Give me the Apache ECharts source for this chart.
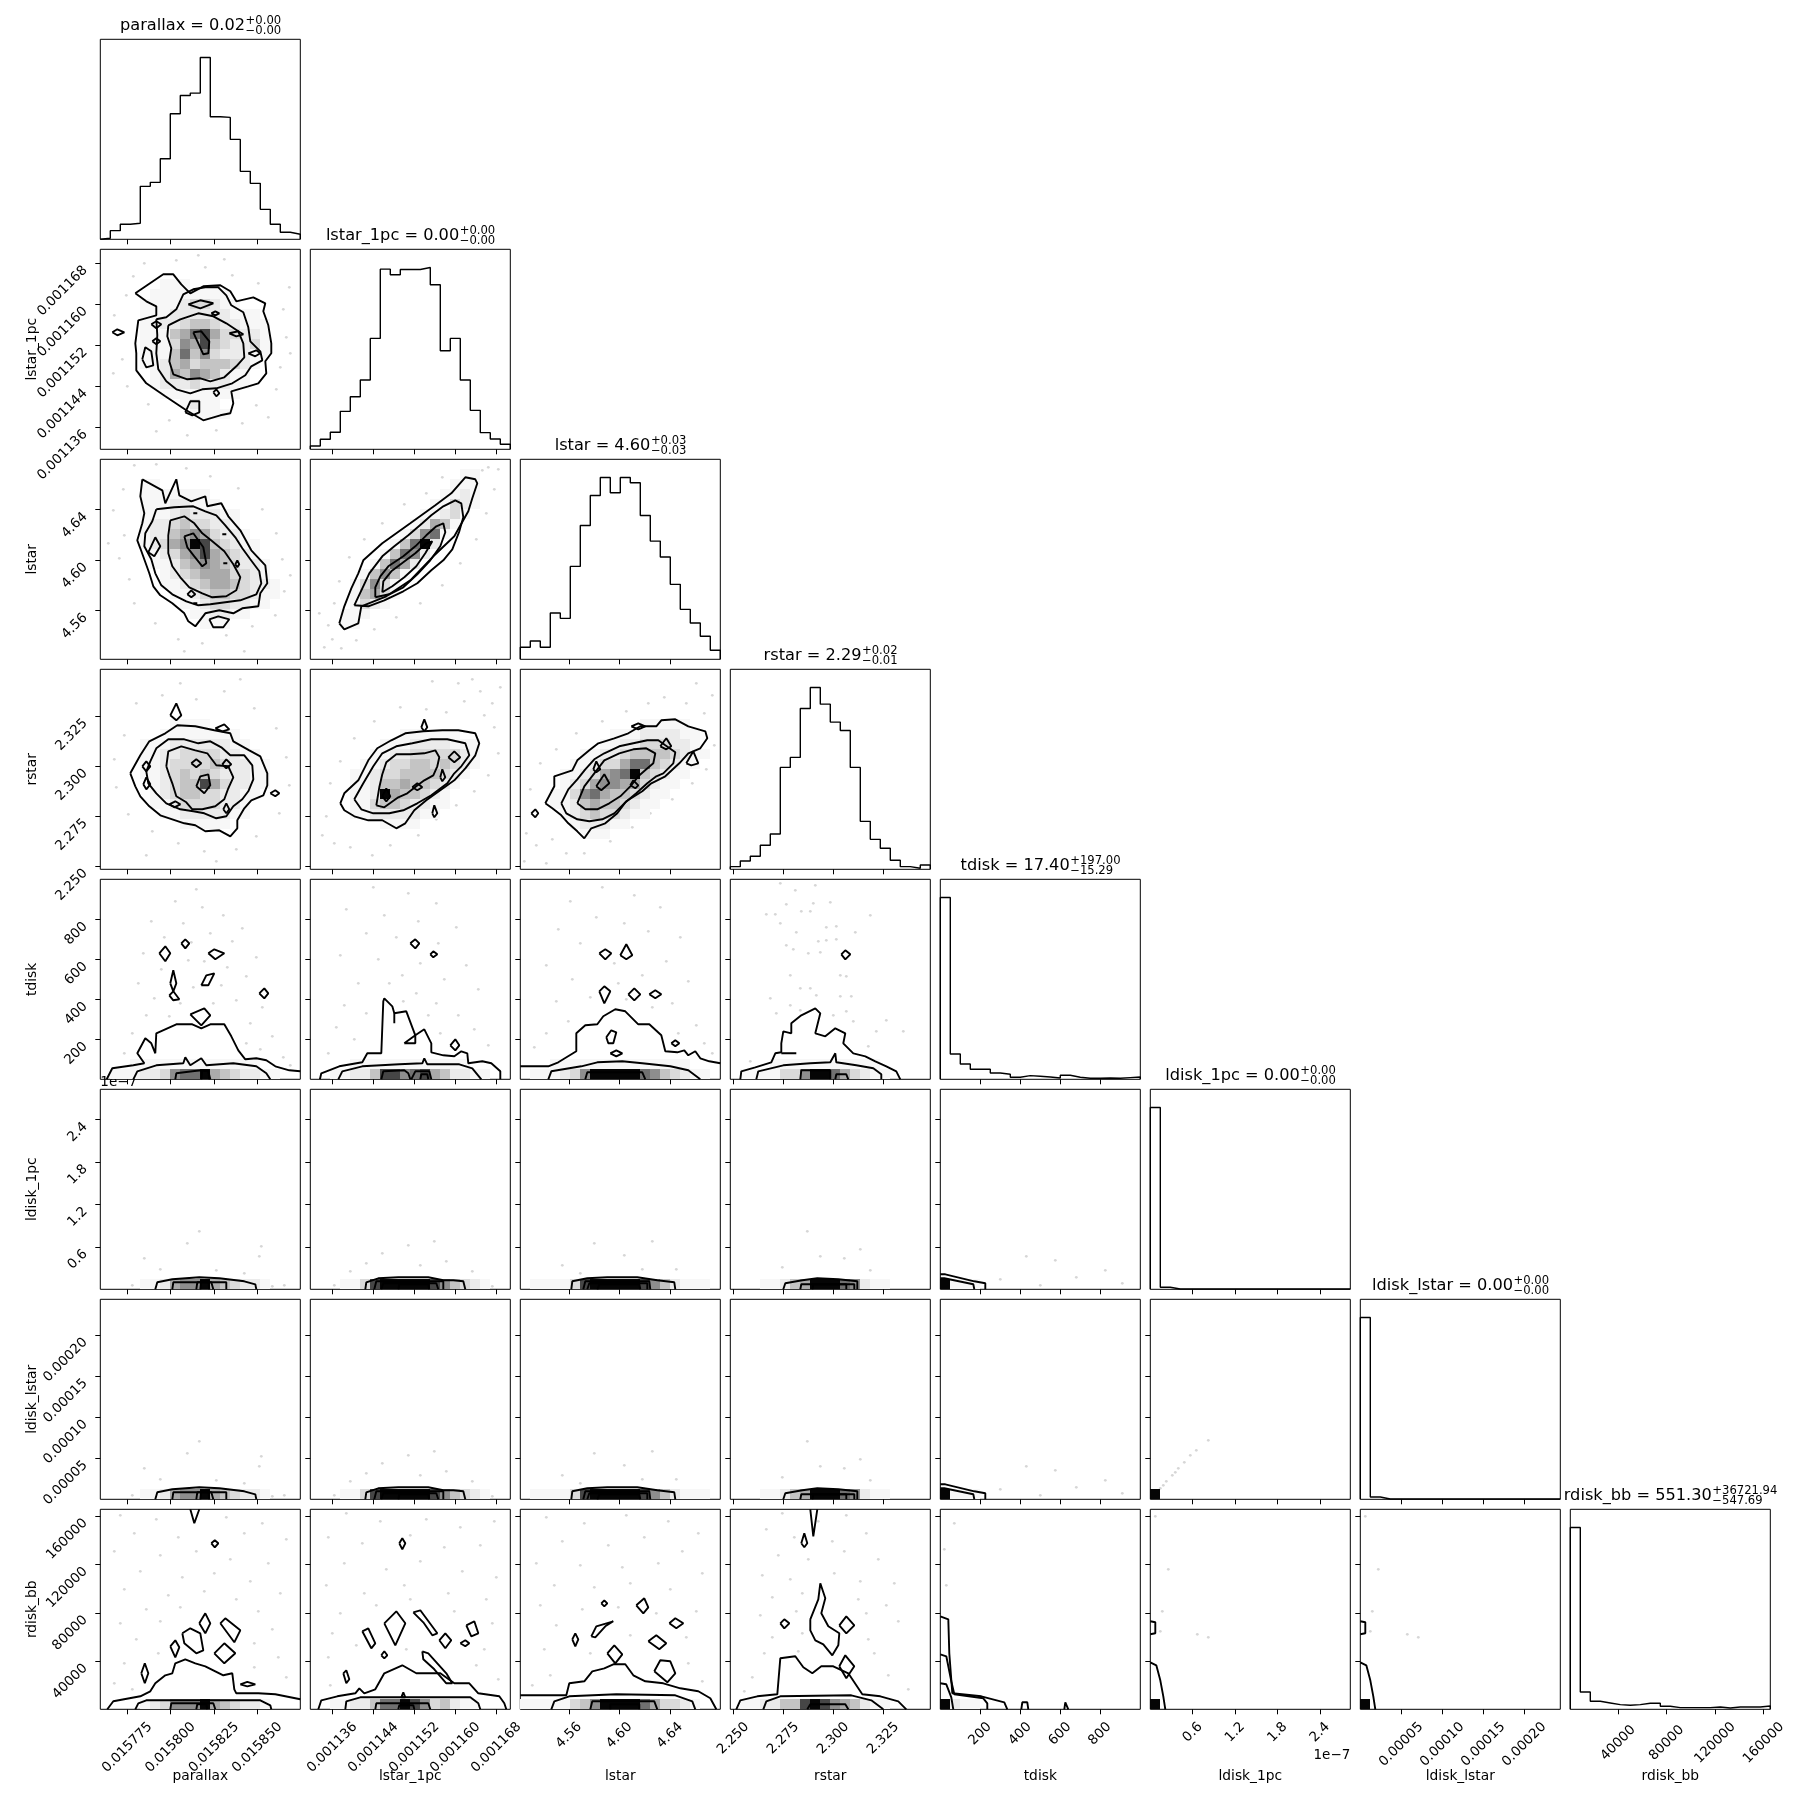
<!DOCTYPE html>
<html><head><meta charset="utf-8">
<script src="https://cdn.jsdelivr.net/npm/echarts@6/dist/echarts.min.js"></script>
<style>html,body{margin:0;padding:0;background:#fff}#c{width:1809px;height:1809px}</style>
</head><body><div id="c"></div>
<script>
// ---------------- data ----------------
const names = ['parallax','lstar_1pc','lstar','rstar','tdisk','ldisk_1pc','ldisk_lstar','rdisk_bb'];
const rangeMin = [0.0157594, 0.00113171, 4.5215, 2.2485, 0, 0, 0, 450];
const rangeMax = [0.0158748, 0.00117073, 4.6799, 2.3485, 1002, 2.83, 0.0002439, 165500];
const ticks = [
  [0.015775, 0.0158, 0.015825, 0.01585],
  [0.001136, 0.001144, 0.001152, 0.00116, 0.001168],
  [4.56, 4.60, 4.64],
  [2.25, 2.275, 2.3, 2.325],
  [200, 400, 600, 800],
  [0.6, 1.2, 1.8, 2.4],
  [0.00005, 0.0001, 0.00015, 0.0002],
  [40000, 80000, 120000, 160000]
];
const tickDecimals = [6, 6, 2, 3, 0, 1, 5, 0];
const titleMain = ['parallax = 0.02','lstar_1pc = 0.00','lstar = 4.60','rstar = 2.29','tdisk = 17.40','ldisk_1pc = 0.00','ldisk_lstar = 0.00','rdisk_bb = 551.30'];
const titleSup = ['+0.00','+0.00','+0.03','+0.02','+197.00','+0.00','+0.00','+36721.94'];
const titleSub = ['\u22120.00','\u22120.00','\u22120.03','\u22120.01','\u221215.29','\u22120.00','\u22120.00','\u2212547.69'];

// 1D histograms (20 bins each)
const hist_parallax   = [3,26,45,48,159,171,242,377,432,439,546,368,366,300,204,168,90,45,21,15];
const hist_lstar_1pc  = [10,30,51,114,158,208,333,541,524,540,540,546,494,296,333,208,117,50,31,15];
const hist_lstar      = [36,55,36,139,123,279,402,492,546,500,546,530,432,355,307,225,150,109,69,27];
const hist_rstar      = [8,25,39,72,106,306,336,483,546,496,442,417,306,144,90,63,27,8,3,13];
const hist_tdisk      = [546,76,46,30,30,19,15,6,11,9,7,4,12,6,3,3,4,3,5,7];
const hist_ldisk_1pc  = [546,6,1,1,1,1,1,1,1,1,1,1,1,1,1,1,1,1,1,1];
const hist_ldisk_lstar= [546,7,1,1,1,1,1,1,1,1,1,1,1,1,1,1,1,1,1,1];
const hist_rdisk_bb   = [546,52,24,19,14,12,14,18,18,9,5,5,5,5,7,4,7,7,7,10];
const hists = [hist_parallax,hist_lstar_1pc,hist_lstar,hist_rstar,hist_tdisk,hist_ldisk_1pc,hist_ldisk_lstar,hist_rdisk_bb];

// 2D histogram cells: rows of 20 bins (darkness 0-9), from row index "top" downward
const cells_1_0 = {top:16, rows:["00000011100000000000","00000111111110000000","00001111233211000000","00001112222221110000","00001122344322111000","00001114578533221000","00001113658432231000","00001114746322211000","00001124534443210000","00000125465421100000","00000122232221100000","00000011111111000000","00000000121100000000","00000000011110000000"]};
const cells_2_0 = {top:17, rows:["00001100000000000000","00001111111000000000","00001112211100000000","00001112322211000000","00001223433221000000","00001224565322100000","00001235698432110000","00000123568543210000","00000112456543221000","00000012345553321000","00000011234554322100","00000001123443321100","00000000112332211000","00000000011221100000","00000000001110000000"]};
const cells_2_1 = {top:18, rows:["00000000000000011000","00000000000000111000","00000000000001121000","00000000000011321000","00000000000112310000","00000000001254100000","00000000013671000000","00000000147920000000","00000001476200000000","00000014752000000000","00000146410000000000","00001363100000000000","00001453100000000000","00001321000000000000","00011100000000000000","00011000000000000000"]};
const cells_3_0 = {top:14, rows:["00000001111000000000","00000011111111000000","00001112222221100000","00001122333322110000","00001123333432211000","00001123434322211000","00000123448532211000","00000123443322110000","00000112333322100000","00000011222221100000","00000000111110000000"]};
const cells_3_1 = {top:13, rows:["00000000011111100000","00000001112222111000","00000011223333321000","00000112334434321000","00001123344443210000","00001124454432100000","00001129544321000000","00001134432211000000","00001122222110000000","00000001111000000000"]};
const cells_3_2 = {top:14, rows:["00000000000011111000","00000000011122221100","00000000112233322100","00000011223444432110","00000112335774321100","00001123567943211000","00001235665532110000","00011367544321100000","00011245443211000000","00001234332110000000","00000122211000000000","00000011100000000000"]};
const cells_4_0 = {top:1, rows:["00011111111111110000","01112236779543221100"]};
const cells_4_1 = {top:1, rows:["00001111111111110000","00112248867854221100"]};
const cells_4_2 = {top:1, rows:["00011111111111111000","01112369999976432110"]};
const cells_4_3 = {top:1, rows:["00001111111111100000","01111336997532110000"]};
const cells_5_0 = {top:0, rows:["00001125669543221000"]};
const cells_5_1 = {top:0, rows:["00011389999986432100"]};
const cells_5_2 = {top:0, rows:["01111389999986421110"]};
const cells_5_3 = {top:0, rows:["00011245999762110000"]};
const cells_5_4 = {top:0, rows:["91110000000000000000"]};
const cells_6_5 = {top:0, rows:["90000000000000000000"]};
const cells_7_0 = {top:0, rows:["00001236669543221000"]};
const cells_7_1 = {top:0, rows:["00112247798634211000"]};
const cells_7_2 = {top:0, rows:["11111346999975332100"]};
const cells_7_3 = {top:0, rows:["01122448986542110000"]};
const cells_7_4 = {top:0, rows:["92110000000000000000"]};
const cells_7_5 = {top:0, rows:["90000000000000000000"]};

// contour vertices in bin units (u along x, v along y, 0..20)
const contours_1_0 = [
 [3.5,15.6,6.3,17.5,7.3,17.5,8.1,16.5,9.0,15.6,10.3,16.3,12.0,16.4,13.0,15.8,13.6,14.8,15.3,15.2,16.5,14.6,16.3,13.8,16.8,12.4,17.1,10.6,17.1,9.6,16.5,8.8,16.6,7.6,15.8,6.6,14.8,6.3,13.1,5.8,13.3,4.6,13.0,3.6,12.0,3.4,10.3,2.9,8.6,3.9,6.5,5.3,4.6,6.6,3.6,7.9,3.6,9.6,3.5,10.6,3.8,12.9,5.6,13.4,5.6,14.3,4.6,14.8],
 [5.6,13.0,6.6,13.2,7.6,14.0,8.3,15.5,9.3,16.0,10.5,16.2,11.8,16.2,12.6,15.4,13.1,14.4,14.3,13.7,14.8,12.2,15.0,10.8,16.0,9.8,16.2,8.9,15.1,8.3,14.5,7.4,13.2,6.6,11.6,6.1,10.2,6.0,9.0,5.6,7.6,6.0,6.6,6.8,5.8,8.0,5.6,9.6,5.7,11.4],
 [6.8,12.4,8.0,13.0,9.8,13.6,11.3,13.3,12.6,12.6,13.8,11.8,14.3,10.6,14.4,9.2,13.6,8.3,12.4,7.2,11.0,6.8,10.0,7.1,8.7,7.0,7.3,7.5,6.9,8.8,7.1,10.1,6.7,11.3],
 [9.3,11.7,10.1,11.8,10.9,10.8,10.8,9.6,10.3,9.5,9.8,10.6],
 [8.8,14.5,10.0,14.9,11.3,14.6,10.0,14.1],
 [5.1,12.5,5.6,12.8,6.1,12.5,5.6,12.1],
 [5.2,10.8,5.6,11.1,6.0,10.8,5.6,10.5],
 [12.9,11.6,13.8,11.8,14.3,11.5,13.6,11.3],
 [14.8,9.6,15.6,9.9,16.0,9.6,15.5,9.3],
 [11.3,5.7,11.6,6.0,11.9,5.6,11.6,5.3],
 [8.5,3.7,9.0,4.8,9.9,4.8,9.9,3.7,9.2,3.4],
 [4.2,9.0,4.5,10.2,5.1,9.8,5.3,8.4,4.6,8.2],
 [1.2,11.7,1.7,12.0,2.4,11.7,1.7,11.4],
 [11.1,13.6,11.5,13.8,11.9,13.6,11.5,13.4]
];
const contours_2_0 = [
 [4.2,18.0,6.2,16.9,6.5,15.6,7.6,18.0,7.9,16.4,9.1,15.8,10.5,16.3,10.7,15.3,12.1,15.6,12.8,14.3,14.0,12.9,15.1,10.9,16.5,9.4,16.7,7.6,16.0,6.6,15.8,5.3,14.2,5.1,13.3,4.6,11.9,4.9,10.5,4.6,9.5,3.3,8.8,3.8,8.4,4.6,7.2,5.6,6.0,6.4,5.3,7.3,4.9,8.6,4.0,11.1,3.7,11.9,4.2,13.6,4.4,14.6,4.0,16.3],
 [5.6,15.0,7.4,15.2,9.3,15.3,10.5,14.8,11.6,14.4,12.5,13.4,13.5,12.2,14.2,11.1,15.0,10.0,15.9,8.8,16.1,7.6,15.6,6.5,14.0,5.9,12.5,5.7,11.0,5.5,9.8,5.4,8.6,5.8,7.2,6.5,6.1,7.4,5.5,8.6,5.1,10.0,4.4,11.3,4.5,12.6,5.2,13.8],
 [7.0,13.9,8.4,14.3,9.4,13.6,10.2,12.6,11.2,11.8,12.4,10.8,13.3,9.5,14.0,8.2,13.6,6.9,12.6,6.3,11.2,6.2,10.2,6.6,8.9,7.2,8.0,8.2,7.2,9.3,6.8,10.6,6.8,12.4],
 [8.4,12.3,9.3,12.6,10.3,11.2,10.6,9.6,10.2,9.3,9.4,10.3,8.7,11.2],
 [10.9,4.0,11.8,4.3,12.9,4.0,12.3,3.2,11.3,3.2],
 [9.3,14.6,9.5,14.8,9.7,14.6,9.5,14.4],
 [12.2,12.5,12.4,12.7,12.6,12.5,12.4,12.3],
 [12.3,9.6,12.5,9.8,12.7,9.6,12.5,9.4],
 [13.5,9.5,13.7,9.9,13.9,9.5,13.7,9.2],
 [9.3,5.6,9.5,5.8,9.7,5.6,9.5,5.4],
 [8.7,6.5,9.1,6.9,9.5,6.5,9.1,6.2],
 [4.8,10.7,5.5,12.2,6.0,11.3,5.4,10.3]
];
const contours_2_1 = [
 [2.9,3.6,3.4,3.0,4.8,3.6,5.1,5.3,7.6,6.3,10.0,7.9,12.3,10.3,14.4,12.3,15.8,14.8,16.2,16.1,16.7,17.6,16.5,18.0,15.5,18.2,14.1,16.6,12.5,15.4,10.0,13.6,7.2,11.6,5.3,9.9,4.8,8.6,4.1,7.1,3.4,5.3],
 [4.4,5.4,5.8,5.3,7.4,5.9,9.3,6.8,10.7,7.6,12.1,8.9,13.3,9.9,14.2,11.0,14.9,12.8,15.3,14.2,15.1,15.6,14.5,15.9,13.3,15.3,12.1,14.4,11.2,13.6,9.8,12.4,8.4,11.3,7.2,10.3,5.9,8.6,5.2,7.1],
 [6.5,6.2,7.9,6.5,9.3,7.2,10.7,8.5,12.0,9.9,13.0,11.3,13.5,12.7,13.3,13.6,12.6,13.3,11.6,12.4,10.5,11.3,9.3,10.3,7.8,9.3,7.0,8.3,6.5,7.2],
 [7.2,6.7,8.2,7.3,9.4,8.2,10.6,9.3,11.5,10.6,12.2,11.8,11.6,11.6,10.5,10.6,9.3,9.7,8.1,8.8,7.3,7.8]
];
const contours_3_0 = [
 [3.0,9.6,4.0,11.4,4.9,12.8,6.5,13.6,7.7,14.4,9.5,14.3,11.4,13.9,13.0,13.6,13.3,12.8,14.9,11.9,16.0,11.3,16.7,9.6,16.7,8.4,16.3,7.4,15.1,6.9,14.4,6.1,13.7,4.9,13.7,4.1,13.0,3.3,11.9,3.9,10.5,3.8,9.5,4.4,8.4,4.6,6.0,5.4,4.9,6.3,4.0,7.3,3.5,8.3],
 [5.0,10.8,5.6,12.1,6.8,13.0,8.4,13.0,9.8,12.6,11.0,12.8,12.1,12.2,13.0,11.4,14.4,11.4,15.2,10.4,15.3,9.0,14.8,7.8,14.2,7.0,13.3,6.3,12.6,5.3,11.6,5.1,10.4,5.6,9.3,5.8,8.0,6.0,6.6,6.6,5.6,7.6,4.8,8.6,4.6,9.8],
 [6.6,10.3,6.8,11.8,8.1,12.3,9.5,11.9,10.7,11.6,11.6,10.4,12.8,10.3,13.3,9.2,12.8,8.1,12.4,7.0,11.5,6.3,10.2,6.0,9.2,6.0,8.6,6.7,7.6,7.3,7.2,8.6,6.9,9.4],
 [9.6,8.3,10.0,9.3,10.8,9.5,11.0,8.4,10.4,7.6],
 [7.0,15.4,7.6,16.6,8.1,15.4,7.6,14.9],
 [11.5,14.1,12.4,14.5,12.9,14.0,12.2,13.8],
 [9.1,10.6,9.6,11.0,10.1,10.6,9.6,10.2],
 [12.2,10.5,12.6,11.0,13.1,10.5,12.6,10.1],
 [17.0,7.6,17.5,7.9,17.9,7.6,17.5,7.3],
 [4.2,10.3,4.6,10.8,5.0,10.3,4.6,9.8],
 [4.3,8.5,4.6,9.2,5.0,8.5,4.6,8.0],
 [6.9,6.5,7.5,6.8,8.0,6.5,7.4,6.2],
 [12.3,6.0,12.6,6.6,12.9,6.0,12.6,5.6]
];
const contours_3_1 = [
 [3.0,6.6,3.4,7.6,4.8,8.9,5.8,10.9,6.7,12.1,8.1,12.9,9.5,13.6,11.3,13.8,13.2,13.9,14.8,13.9,16.5,13.6,16.9,12.6,16.5,11.4,15.5,10.1,14.4,8.9,13.0,7.9,11.6,6.9,10.4,5.9,9.5,4.6,8.6,4.1,7.2,4.9,5.8,4.9,4.4,5.3,3.4,5.9],
 [4.4,7.0,5.3,8.6,6.3,10.3,7.2,11.6,8.6,12.3,10.2,12.6,12.1,13.0,13.7,13.0,15.5,12.6,15.9,11.4,15.1,10.3,14.4,9.6,13.7,8.6,12.1,7.4,10.7,6.6,9.3,5.9,7.9,5.6,6.3,5.6,5.1,6.0],
 [6.6,6.4,6.9,8.2,7.2,9.5,7.6,10.7,8.6,11.5,10.0,11.5,11.4,11.6,12.5,11.9,12.9,11.2,12.7,10.3,12.3,9.4,11.4,8.9,10.6,8.3,9.7,7.6,8.8,7.2,8.1,6.7,7.4,6.2],
 [7.2,7.3,7.6,8.1,8.0,7.3,7.6,6.8],
 [10.2,8.2,10.7,8.6,11.2,8.2,10.7,7.9],
 [13.8,11.2,14.4,11.8,15.0,11.2,14.4,10.7],
 [11.1,14.2,11.4,15.0,11.7,14.2,11.4,13.8],
 [12.2,5.6,12.4,6.4,12.7,5.6,12.4,5.2],
 [13.0,9.2,13.2,10.0,13.5,9.2,13.2,8.8]
];
const contours_3_2 = [
 [2.5,6.6,3.4,8.3,3.4,9.3,5.2,9.9,5.7,10.9,6.9,11.9,7.8,12.6,9.4,13.1,10.8,13.6,12.0,14.3,13.6,14.3,14.1,14.9,15.5,15.0,16.8,14.3,18.5,13.8,18.7,13.1,18.0,12.1,16.8,11.6,15.9,10.6,14.5,9.3,13.1,8.6,12.2,7.8,10.6,6.8,9.7,5.6,8.5,4.6,7.1,4.1,6.4,3.1,5.7,3.8,4.8,4.6,4.1,5.4,3.2,6.1],
 [4.1,6.6,4.8,8.0,5.7,9.0,6.5,10.0,7.4,11.0,8.4,11.6,9.9,12.3,11.3,12.6,12.7,12.9,13.8,12.9,14.5,12.4,15.5,11.7,15.3,10.6,14.3,9.6,13.6,9.3,12.7,8.6,11.6,7.6,10.4,6.6,9.4,5.6,8.2,5.0,6.9,4.8,5.7,5.0,4.6,5.6],
 [5.7,6.6,6.4,8.3,7.4,9.6,8.4,10.9,9.9,11.6,11.3,12.0,12.6,12.1,13.5,11.6,13.3,10.6,12.6,10.0,11.8,9.3,11.0,8.3,10.0,7.3,8.9,6.6,7.7,6.0,6.5,6.0],
 [7.6,8.3,8.4,9.5,8.9,8.6,8.1,7.9],
 [11.0,8.4,11.3,8.9,11.8,8.4,11.5,8.1],
 [11.1,14.3,11.8,14.6,12.5,14.3,11.8,14.0],
 [16.6,10.6,17.3,11.8,17.8,10.6,17.1,10.4],
 [1.1,5.6,1.5,6.0,1.8,5.6,1.5,5.2],
 [7.3,10.0,7.6,10.8,8.0,10.0,7.6,9.7],
 [14.0,12.3,14.6,13.1,15.1,12.3,14.6,12.0]
];
const contours_4_0 = [
 [0.64,0,1.2,1.1,3.3,1.4,4.4,1.6,3.7,2.6,4.5,4.1,5.1,3.6,5.5,2.6,5.6,4.6,7.6,5.5,9.2,5.5,10.1,5.1,11.0,5.5,12.4,5.5,13.1,4.3,13.8,2.9,14.5,2.0,15.6,2.1,16.6,1.9,17.5,1.3,18.9,0.9,20,0.8],
 [3.3,0,3.7,0.8,5.6,1.4,8.3,1.6,8.5,2.2,9.0,1.4,10.1,2.1,10.6,1.4,13.3,1.6,15.6,1.3,16.6,0.6,17.0,0],
 [7.5,0,7.6,0.6,9.2,0.8,10.1,0.9,10.8,0.8,11.0,0],
 [10.1,0,10.2,0.9,10.8,0.9,10.9,0],
 [9.0,6.5,10.4,7.1,11.0,6.4,10.1,5.4],
 [5.9,12.6,6.5,13.3,7.0,12.6,6.5,11.8],
 [8.1,13.6,8.5,14.0,8.9,13.6,8.5,13.1],
 [10.8,12.6,11.4,13.0,12.4,12.6,11.5,12.0],
 [7.0,9.6,7.3,10.9,7.6,9.6,7.3,8.8],
 [6.9,8.4,7.3,8.8,7.9,8.0,7.3,7.9],
 [10.1,9.4,10.6,10.4,11.4,10.6,10.8,9.4],
 [15.9,8.6,16.4,9.1,16.8,8.6,16.4,8.1]
];
const contours_4_1 = [
 [0.96,0,1.1,0.6,2.9,1.3,5.2,1.7,5.7,2.6,7.1,2.6,7.3,7.8,7.4,8.1,8.2,7.3,8.4,6.6,9.6,6.8,10.5,4.4,11.4,5.0,12.1,3.6,12.1,2.7,13.3,2.4,14.4,2.3,15.1,2.8,15.7,2.6,15.8,1.6,17.2,1.8,18.1,1.6,19.0,0.8,19.0,0],
 [2.8,0,3.2,0.8,5.2,1.3,8.9,1.5,11.2,1.6,11.4,2.1,11.7,1.5,14.9,1.5,16.2,1.1,17.1,0],
 [7.1,0,7.3,0.8,9.4,0.9,9.8,0.6,10.0,0],
 [10.1,0,10.5,0.8,11.9,0.8,12.1,0],
 [11.0,0,11.1,0.5,11.7,0.5,11.8,0],
 [10.0,13.6,10.5,14.0,10.9,13.6,10.5,13.1],
 [12.0,12.5,12.3,12.8,12.7,12.5,12.3,12.2],
 [14.0,3.4,14.5,4.0,14.9,3.4,14.5,2.9],
 [9.4,3.6,10.5,3.6,10.5,4.4],
 [8.4,6.6,8.4,5.6]
];
const contours_4_2 = [
 [0,1.3,2.8,1.3,3.8,1.7,5.6,2.8,5.6,4.6,6.5,5.4,7.7,5.5,8.3,6.3,9.5,7.0,10.5,6.8,11.8,5.5,12.9,5.5,14.1,4.4,14.5,2.8,15.7,2.7,16.4,2.9,16.8,2.4,17.5,2.8,18.0,2.1,18.9,1.8,20,1.6],
 [2.8,0,3.1,0.8,6.1,1.3,7.7,1.7,10.2,1.8,12.2,1.6,15.0,1.3,16.8,0.9,18.0,0],
 [6.5,0,6.7,0.7,12.2,0.7,12.5,0],
 [7.9,12.6,8.5,13.0,9.1,12.6,8.5,12.0],
 [10.0,12.4,10.6,13.5,11.2,12.4,10.6,12.0],
 [7.9,8.8,8.4,9.3,9.0,8.8,8.4,7.6],
 [10.8,8.5,11.4,9.1,12.0,8.5,11.4,7.9],
 [12.9,8.5,13.5,8.9,14.1,8.5,13.5,8.1],
 [8.6,4.2,9.1,4.9,9.6,4.7,9.3,3.6,8.8,3.6],
 [9.0,2.6,9.6,2.9,10.2,2.6,9.6,2.3],
 [15.1,3.6,15.5,3.9,15.9,3.6,15.5,3.3]
];
const contours_4_3 = [
 [1.0,0,1.1,0.8,2.5,1.2,4.1,1.7,4.5,2.6,5.1,2.7,5.1,3.6,5.3,4.8,6.1,4.6,6.1,5.6,7.1,6.4,8.5,7.1,9.0,6.6,8.5,4.6,9.5,4.3,10.5,5.1,11.5,4.6,11.3,3.6,12.3,2.6,13.5,2.3,14.5,1.8,15.6,1.3,16.6,0.8,17.0,0],
 [2.6,0,2.8,0.8,5.3,1.4,8.0,1.6,10.0,1.7,10.5,2.6,10.6,1.7,12.6,1.4,14.3,1.1,15.1,0.5,15.1,0],
 [7.0,0,7.1,0.9,10.0,0.9,10.0,0],
 [10.5,0,10.6,0.5,11.6,0.5,11.8,0],
 [5.1,2.6,6.6,2.6],
 [11.1,12.5,11.5,12.9,12.0,12.5,11.5,12.0]
];
const contours_5_0 = [
 [5.5,0,5.7,0.7,7.2,1.0,9.9,1.2,11.9,1.1,14.4,0.8,15.5,0.5,15.6,0],
 [7.2,0,7.3,0.7,12.6,0.7,12.6,0],
 [9.6,0,9.7,0.7,11.1,0.7,11.3,0],
 [10.0,0,10.1,0.9,10.8,0.9,10.9,0]
];
const contours_5_1 = [
 [5.5,0,5.6,0.7,6.8,1.1,8.8,1.2,11.8,1.2,13.3,0.9,14.3,0.9,15.3,0.8,15.5,0],
 [6.4,0,6.6,0.8,13.3,0.8,13.3,0],
 [7.1,0,7.3,0.6,12.6,0.6,12.8,0],
 [8.8,0,8.9,0.5,11.8,0.5,11.9,0]
];
const contours_5_2 = [
 [5.1,0,5.2,0.8,6.7,1.1,8.7,1.2,11.7,1.2,13.7,0.9,15.4,0.7,15.5,0],
 [6.3,0,6.5,0.8,12.9,0.8,13.0,0],
 [6.7,0,6.9,0.6,12.7,0.6,12.7,0],
 [7.7,0,7.9,0.5,11.9,0.5,12.0,0]
];
const contours_5_3 = [
 [5.3,0,5.5,0.6,7.2,0.9,8.7,1.1,10.8,1.0,12.7,0.8,12.7,0],
 [7.0,0,7.1,0.5,12.4,0.5,12.4,0],
 [8.2,0,8.3,0.5,11.6,0.5,11.6,0]
];
const contours_5_4 = [
 [0,1.5,0.5,1.5,3.4,0.8,4.5,0.6,4.5,0],
 [0,1.1,0.4,1.1,3.3,0.5,3.4,0]
];
const contours_7_0 = [
 [0.7,0,1.3,0.8,4.0,1.3,5.0,1.8,5.5,2.6,6.5,3.4,7.2,3.6,7.5,4.6,8.5,5.0,9.5,4.6,10.5,4.3,11.5,3.8,12.3,3.4,13.2,3.6,13.4,2.0,13.6,1.6,15.8,1.6,17.5,1.5,20,1.0],
 [3.5,0,3.8,0.6,4.6,0.9,16.0,0.9,17.0,0.4,17.1,0],
 [7.0,0,7.1,0.6,11.3,0.6,11.5,0],
 [9.6,0,9.7,0.5,10.6,0.5,10.7,0],
 [9.0,20,9.4,18.6,9.9,20],
 [11.1,16.6,11.45,16.9,11.8,16.6,11.45,16.2],
 [9.9,8.6,10.5,9.6,11.0,8.6,10.5,7.6],
 [8.2,7.6,9.0,8.1,10.0,7.6,10.3,5.9,9.6,5.6,8.4,6.6],
 [12.0,8.6,12.5,9.1,14.0,7.9,13.4,6.7],
 [11.4,5.6,12.4,6.6,13.5,5.6,12.4,4.6],
 [7.0,6.3,7.5,6.9,7.9,6.2,7.5,5.2],
 [4.1,3.6,4.45,4.6,4.8,3.6,4.45,2.6],
 [14.0,2.5,14.7,2.75,15.5,2.5,14.7,2.3]
];
const contours_7_1 = [
 [0.8,0,1.1,0.9,2.7,1.3,4.5,1.6,4.9,2.1,5.4,1.6,6.5,2.0,7.4,3.6,9.2,4.4,10.6,3.6,13.0,3.6,14.4,2.6,15.9,2.6,16.8,1.6,18.9,1.3,19.4,0.6,19.6,0],
 [3.5,0,3.6,0.8,5.0,1.2,16.0,1.2,16.8,0.6,17.0,0],
 [6.5,0,6.6,0.6,11.8,0.6,12.0,0],
 [8.8,0,8.9,0.4,10.3,0.4,10.4,0],
 [9.1,1.2,9.3,1.7,9.5,1.2],
 [8.9,16.6,9.2,17.1,9.5,16.6,9.2,16.0],
 [7.4,8.6,8.6,9.8,9.5,8.6,8.5,6.4],
 [10.3,9.7,11.0,9.9,12.7,7.6,12.2,7.4,11.3,8.7],
 [5.2,7.8,5.8,8.1,6.5,6.6,6.1,6.1],
 [3.3,3.6,3.6,3.9,3.9,3.0,3.6,2.6],
 [7.1,5.4,7.4,5.8,7.7,5.4,7.4,5.1],
 [12.9,6.9,13.5,7.6,14.1,6.9,13.5,6.1],
 [15.0,6.6,15.5,6.9,15.9,6.6,15.5,6.3],
 [15.6,8.4,16.4,8.8,16.8,7.6,16.1,7.3],
 [11.2,5.8,11.8,5.6,13.6,3.6,14.2,2.6,13.6,2.6,12.4,4.0,11.3,5.0]
];
const contours_7_2 = [
 [0,1.4,4.6,1.4,4.9,2.6,6.4,2.8,7.2,3.8,8.4,4.1,9.3,4.5,10.5,4.5,11.3,3.4,12.5,2.8,14.3,2.6,16.0,2.1,17.8,1.8,19.0,1.1,19.6,0],
 [3.1,0,3.4,0.8,4.9,1.3,9.6,1.5,15.5,1.4,17.2,0.8,17.5,0],
 [7.0,0,7.2,0.8,13.4,0.8,13.7,0],
 [9.0,0,9.0,0.5,11.9,0.5,11.9,0],
 [8.1,10.6,8.4,10.9,8.7,10.6,8.4,10.3],
 [11.6,10.4,12.4,11.1,12.8,10.2,12.3,9.6],
 [7.1,7.3,7.6,8.3,9.3,8.8,8.5,8.3,7.5,7.2],
 [5.2,7.0,5.5,7.6,5.8,7.0,5.5,6.3],
 [8.7,5.6,9.4,6.4,10.2,5.5,9.5,4.6],
 [12.8,6.8,13.6,7.4,14.6,6.6,13.9,6.0],
 [14.9,8.6,15.5,9.1,16.3,8.6,15.6,8.1],
 [13.4,3.8,14.0,4.9,15.0,4.8,15.5,3.6,14.7,2.7]
];
const contours_7_3 = [
 [0.6,0,1.0,0.9,2.7,1.3,4.7,1.5,5.0,5.1,6.5,5.3,7.3,4.2,8.2,3.6,9.1,4.3,10.3,4.3,11.8,3.6,13.2,1.5,15.0,1.3,16.8,0.8,17.6,0],
 [3.3,0,3.6,0.8,5.0,1.3,12.1,1.4,14.1,0.9,15.3,0],
 [7.7,0,8.0,0.5,11.5,0.5,11.8,0],
 [8.0,9.0,8.8,11.0,9.0,12.6,9.5,11.1,9.1,9.6,9.8,8.3,10.9,7.6,10.8,6.4,10.2,5.4,9.3,6.5,8.5,6.9,8.0,7.9],
 [8.0,20,8.3,17.3,8.7,20],
 [7.1,16.6,7.4,17.6,7.7,16.6,7.4,16.2],
 [5.0,8.6,5.4,9.0,5.9,8.6,5.4,8.1],
 [10.9,8.4,11.6,9.3,12.4,8.4,11.6,7.6],
 [10.9,4.3,11.5,5.4,12.4,4.3,11.6,3.1]
];
const contours_7_4 = [
 [0,9.3,0.8,9.0,0.9,5.6,1.2,1.6,4.1,1.3,6.4,0.7,6.7,0],
 [0,5.5,0.6,5.3,1.1,2.8,1.4,1.5,4.3,1.1,4.7,0.6,4.7,0],
 [0,2.6,0.6,2.5,1.1,1.2,1.3,0],
 [8.1,0,8.2,0.7,8.7,0.7,8.8,0],
 [12.4,0,12.5,0.7,12.7,0.7,12.8,0]
];
const contours_7_5 = [
 [0,8.8,0.5,8.7,0.5,7.6,0,7.5],
 [0,4.7,0.6,4.4,1.0,2.9,1.3,1.3,1.5,0]
];

// faint sample points outside the outer contours (bin units u,v)
const points_1_0 = [4.4,18.6,7.6,18.9,10.5,18.2,13.2,17.4,15.8,16.6,18.3,14.0,18.6,11.2,18.0,8.2,17.6,6.0,15.6,4.4,14.2,2.6,11.6,1.9,8.7,1.4,6.9,2.9,4.8,4.5,2.7,6.3,2.2,9.0,1.4,13.4,2.6,15.4,9.8,19.4,12.4,19.0,3.3,17.3,19.0,9.6,16.8,3.2,5.6,1.8,1.3,7.6,18.9,16.2];
const points_2_0 = [2.3,17.0,1.3,14.9,2.4,12.4,1.9,10.1,2.9,8.0,3.4,5.6,5.5,3.6,7.8,2.0,10.2,1.6,12.6,2.4,15.2,3.3,17.5,4.4,18.4,6.8,18.2,10.0,17.6,12.6,16.2,15.0,13.8,17.1,11.0,18.3,8.6,19.1,3.4,19.4,5.6,19.5,19.0,8.4,14.4,0.8,8.4,0.8,0.8,11.6];
const points_2_1 = [1.4,1.2,2.2,2.0,3.1,1.1,1.8,3.4,4.6,1.9,0.9,4.6,2.4,5.6,2.9,7.8,3.9,10.2,5.4,12.0,7.2,13.6,9.4,15.5,11.6,16.6,13.2,18.2,17.8,19.2,18.4,17.0,17.6,14.6,16.6,12.0,15.0,9.6,13.2,7.4,11.0,5.6,8.6,4.2,6.4,3.0,18.8,19.0,17.2,18.9];
const points_3_0 = [3.6,16.6,6.2,17.4,9.6,17.0,12.4,17.8,15.4,16.1,17.6,14.1,18.6,11.2,18.9,8.4,17.9,5.6,15.6,3.3,13.6,2.0,10.4,1.8,7.8,2.6,5.2,3.8,2.8,5.5,1.6,8.2,1.4,11.0,2.4,13.4,8.0,18.6,14.0,19.0,11.6,0.8,4.6,1.4];
const points_3_1 = [1.2,3.4,2.4,2.6,4.0,2.2,1.6,5.3,2.0,8.6,3.0,10.8,4.4,13.1,6.4,14.8,9.0,16.2,11.6,16.0,13.6,15.7,15.4,16.8,17.4,15.4,18.4,14.2,18.2,16.6,17.0,17.8,16.2,19.0,18.8,11.6,17.8,9.4,16.4,7.8,14.6,6.4,12.6,5.0,10.8,3.4,8.0,2.4,6.2,1.4,14.8,18.6,12.2,18.8,19.0,18.2];
const points_3_2 = [0.6,3.6,1.6,2.4,3.2,3.0,4.6,1.6,6.4,1.6,1.0,8.0,2.0,10.6,3.6,12.0,5.6,13.6,8.2,14.8,10.6,15.8,12.8,16.6,14.4,17.2,16.6,16.6,18.4,15.6,19.2,17.4,17.6,18.6,19.4,12.4,18.6,10.0,17.2,8.6,15.2,7.0,13.0,5.6,11.2,4.2,9.0,2.8,0.4,0.8,2.6,0.6];
const points_4_0 = [9.6,19.0,7.5,17.8,10.2,17.2,12.3,16.4,5.1,15.8,8.3,15.6,14.2,15.1,6.4,14.2,11.0,14.6,9.1,13.7,13.2,13.8,4.3,12.6,15.6,12.2,8.8,11.9,12.7,11.2,6.1,11.0,10.4,11.8,14.6,10.3,3.8,9.6,9.3,9.2,12.1,9.4,5.4,8.1,8.0,7.6,13.6,7.9,16.2,7.2,11.3,7.6,4.6,6.4,6.9,6.3,15.0,5.6,17.2,4.3,3.2,4.6,14.6,3.6,16.0,3.0,2.4,2.6,18.3,2.2,19.0,1.4];
const points_4_1 = [6.3,19.2,9.8,18.6,12.6,17.6,3.6,17.0,7.4,16.4,10.8,15.8,14.6,15.2,5.6,14.6,8.6,14.2,12.8,13.6,3.0,12.4,6.8,12.0,11.0,11.6,15.6,11.4,9.2,10.4,13.4,10.0,4.8,9.6,7.9,9.6,16.8,9.0,10.6,8.6,3.4,7.4,12.6,7.6,5.6,6.6,14.8,6.4,9.3,7.8,2.6,5.2,16.4,5.0,11.8,6.4,4.4,4.0,17.8,3.4,13.0,4.6,1.8,2.6];
const points_4_2 = [8.2,19.2,11.4,18.4,5.0,17.8,14.0,17.2,7.6,16.2,10.4,15.6,3.8,15.0,12.8,14.8,16.0,14.2,6.0,13.6,9.4,11.6,14.6,11.8,2.6,11.4,12.2,10.4,5.2,10.0,16.8,9.8,9.8,9.6,7.0,8.2,15.2,7.6,3.6,7.8,13.2,7.2,10.6,8.0,4.8,5.8,17.6,5.4,2.6,4.6,15.8,4.6,1.4,3.2,18.4,3.6,19.2,2.6];
const points_4_3 = [5.0,19.6,8.5,19.4,6.5,18.9,10.0,17.7,8.3,17.6,5.6,17.5,3.6,16.5,4.5,16.5,7.1,16.8,8.0,16.8,14.0,16.4,5.0,15.6,9.6,15.2,10.6,15.3,12.5,14.7,6.6,14.7,10.6,14.0,8.8,13.8,9.6,13.9,5.6,13.4,6.3,13.0,7.8,12.6,9.0,12.7,11.0,10.4,11.6,10.3,6.0,10.4,7.0,9.1,8.0,9.1,8.6,8.4,11.0,8.3,12.1,8.3,4.0,8.1,4.6,6.6,6.0,7.4,7.0,6.9,10.3,6.4,11.6,6.8,12.3,5.8,14.6,4.8,15.6,5.9,17.3,4.8,2.0,1.8,13.8,3.3];
const points_5_0 = [4.4,3.1,8.7,4.6,9.9,5.8,11.6,1.9,14.4,1.6,15.9,3.3,16.1,4.3,6.0,2.0,3.2,0.4,17.2,0.3,18.4,0.4];
const points_5_1 = [4.0,1.8,7.2,3.6,9.8,4.4,12.4,4.8,13.6,2.8,16.2,1.8,5.6,2.6,11.0,2.4,2.4,0.4,18.2,0.3];
const points_5_2 = [4.2,2.4,7.4,4.6,10.4,3.4,13.2,4.8,15.6,2.0,6.0,1.6,12.2,2.0,17.6,0.6,2.0,0.3,18.8,0.4];
const points_5_3 = [7.7,5.8,11.4,3.1,9.0,3.3,14.0,1.9,5.2,2.2,13.0,4.0,15.6,0.6,3.6,0.4];
const points_5_4 = [8.6,3.3,11.5,2.9,16.5,1.9,13.6,1.2,6.0,1.0,18.2,0.6,10.0,0.4];
const points_6_5 = [1.0,1.1,1.6,1.8,2.2,2.4,2.8,3.1,3.4,3.7,4.0,4.4,4.6,4.9,5.8,5.9,1.3,1.4,2.5,2.7];
const points_7_0 = [2.0,19.4,5.6,19.0,12.6,19.2,16.2,18.6,3.4,17.6,7.8,17.2,14.4,17.6,18.6,17.0,1.4,15.8,6.0,15.4,9.6,15.8,13.0,15.0,16.8,14.6,4.0,13.8,8.2,13.2,11.4,13.6,15.0,12.8,2.4,12.0,6.8,11.4,10.4,11.8,13.6,11.0,18.0,11.6,4.6,10.0,8.0,10.2,15.8,9.8,2.0,8.6,6.0,8.8,17.2,8.0,3.6,7.0,15.4,6.6,5.8,5.6,17.8,5.2,2.4,4.6,15.4,4.2,18.6,3.2,1.4,2.6,3.2,2.0];
const points_7_1 = [3.6,19.6,7.0,18.8,11.6,19.0,15.0,18.2,18.4,18.8,1.8,17.2,5.2,16.6,10.0,17.4,13.4,16.2,17.0,16.4,3.4,14.6,7.6,14.0,11.0,14.8,15.2,13.8,18.6,13.2,1.6,12.4,5.4,11.6,9.4,12.4,13.8,11.6,17.6,11.0,3.0,9.6,6.6,10.4,10.0,11.0,14.4,9.8,18.2,8.6,2.2,7.6,4.6,6.4,17.4,6.0,1.8,5.2,16.6,4.4,9.6,6.0,18.8,3.0,2.0,2.4];
const points_7_2 = [2.6,19.2,6.4,18.6,10.6,19.4,14.8,18.8,17.8,17.6,4.2,16.8,8.8,16.4,12.4,17.2,16.2,15.8,1.6,14.6,6.0,14.4,10.2,14.2,13.8,14.6,18.2,13.6,3.4,12.4,7.4,12.2,11.0,12.6,15.0,12.0,2.0,10.4,6.2,10.0,9.8,10.2,13.6,9.6,17.6,9.8,3.6,8.4,11.0,7.4,16.6,7.2,2.4,6.0,7.0,5.6,16.8,4.6,3.0,3.4,18.2,2.8,1.2,2.4];
const points_7_3 = [5.2,19.6,8.8,18.8,11.6,19.4,3.6,18.0,6.4,17.2,10.2,16.8,13.6,17.6,4.8,15.4,7.8,15.0,11.4,15.8,14.8,15.0,3.2,13.4,6.0,13.0,10.4,13.6,13.0,12.8,16.4,12.6,4.2,11.2,7.2,11.6,12.8,11.0,15.6,10.4,3.0,9.4,6.6,9.8,13.6,9.6,16.8,8.8,4.2,7.2,7.2,7.6,13.8,7.0,3.4,5.6,6.8,5.8,14.4,5.6,15.8,3.4,2.2,3.2,17.8,2.0,1.4,1.8];
const points_7_4 = [0.4,16.0,0.6,12.4,1.4,18.6];
const points_7_5 = [0.5,19.3,1.8,14.0,1.2,9.8,1.0,7.8,4.7,7.5,5.8,7.2];

// panel table: [row, col, cells, contours, points]
const panels2d = [
 [1,0,cells_1_0,contours_1_0,points_1_0],
 [2,0,cells_2_0,contours_2_0,points_2_0],[2,1,cells_2_1,contours_2_1,points_2_1],
 [3,0,cells_3_0,contours_3_0,points_3_0],[3,1,cells_3_1,contours_3_1,points_3_1],[3,2,cells_3_2,contours_3_2,points_3_2],
 [4,0,cells_4_0,contours_4_0,points_4_0],[4,1,cells_4_1,contours_4_1,points_4_1],[4,2,cells_4_2,contours_4_2,points_4_2],[4,3,cells_4_3,contours_4_3,points_4_3],
 [5,0,cells_5_0,contours_5_0,points_5_0],[5,1,cells_5_1,contours_5_1,points_5_1],[5,2,cells_5_2,contours_5_2,points_5_2],[5,3,cells_5_3,contours_5_3,points_5_3],[5,4,cells_5_4,contours_5_4,points_5_4],
 [6,0,cells_5_0,contours_5_0,points_5_0],[6,1,cells_5_1,contours_5_1,points_5_1],[6,2,cells_5_2,contours_5_2,points_5_2],[6,3,cells_5_3,contours_5_3,points_5_3],[6,4,cells_5_4,contours_5_4,points_5_4],[6,5,cells_6_5,[],points_6_5],
 [7,0,cells_7_0,contours_7_0,points_7_0],[7,1,cells_7_1,contours_7_1,points_7_1],[7,2,cells_7_2,contours_7_2,points_7_2],[7,3,cells_7_3,contours_7_3,points_7_3],[7,4,cells_7_4,contours_7_4,points_7_4],[7,5,cells_7_5,contours_7_5,points_7_5],[7,6,cells_7_5,contours_7_5,points_7_5]
];

// ---------------- layout / style ----------------
const PW = 200, STEP = 210, LEFT0 = 100.3, TOP0 = 39.3;
const FONT = '"DejaVu Sans", Verdana, sans-serif';
const FS_TICK = 13.5, FS_NAME = 13.8, FS_T = 16.2, FS_S = 11.6;
const grayLevels = [255, 247, 235, 218, 196, 170, 142, 112, 70, 5];

const mctx = document.createElement('canvas').getContext('2d');
function textW(t, fs){ mctx.font = fs + 'px ' + FONT; return mctx.measureText(t).width; }
function fmt(i, v){ return Number(v).toFixed(tickDecimals[i]); }
const xMargin = names.map((n,i)=>{
  const w = Math.max(...ticks[i].map(v=>textW(fmt(i,v), FS_TICK)));
  return 12 + (w + 0.73*FS_TICK)*0.3535;
});

function binX(i,u){ return rangeMin[i] + u*(rangeMax[i]-rangeMin[i])/20; }
function contourPts(flat, vi, vj){
  const pts=[];
  for(let k=0;k<flat.length;k+=2) pts.push([binX(vi,flat[k]), binX(vj,flat[k+1])]);
  const u0=flat[0], v0=flat[1];
  const onEdge = u0<=0.01||u0>=19.99||v0<=0.01||v0>=19.99;
  if(!onEdge) pts.push(pts[0]);
  return pts;
}
function pointData(flat, vi, vj){
  const pts=[];
  for(let k=0;k<flat.length;k+=2) pts.push([binX(vi,flat[k]), binX(vj,flat[k+1])]);
  return pts;
}
function cellData(spec, vi, vj){
  const out=[];
  spec.rows.forEach((row,k)=>{
    const v = spec.top - k;
    for(let u=0;u<20;u++){ const d=+row[u]; if(d>0) out.push([binX(vi,u), binX(vj,v), binX(vi,u+1), binX(vj,v+1), d]); }
  });
  return out;
}
function histPts(counts, i){
  const pts=[[rangeMin[i],0]];
  for(let b=0;b<counts.length;b++){ pts.push([binX(i,b),counts[b]]); pts.push([binX(i,b+1),counts[b]]); }
  pts.push([rangeMax[i],0]);
  return pts;
}

const grids=[], xAxes=[], yAxes=[], series=[], graphics=[];
const gIndex={};
let g=0;
for(let r=0;r<8;r++) for(let c=0;c<=r;c++){
  gIndex[r+'_'+c]=g;
  grids.push({left:LEFT0+c*STEP, top:TOP0+r*STEP, width:PW, height:PW, show:true,
    borderColor:'#000', borderWidth:1, backgroundColor:'rgba(0,0,0,0)', containLabel:false, outerBoundsMode:'none'});
  xAxes.push({gridIndex:g, type:'value', min:rangeMin[c], max:rangeMax[c],
    axisLine:{show:false, onZero:false}, splitLine:{show:false},
    axisTick:{show:true, inside:false, length:5, customValues:ticks[c], lineStyle:{color:'#000', width:1}},
    axisLabel:{show:r===7, customValues:ticks[c], rotate:45, align:'center', verticalAlign:'middle', margin:xMargin[c],
      fontSize:FS_TICK, fontFamily:FONT, color:'#000', formatter:(v)=>fmt(c,v)},
    name: r===7 ? names[c] : '', nameLocation:'middle', nameGap:60, nameMoveOverlap:false,
    nameTextStyle:{fontSize:FS_NAME, fontFamily:FONT, color:'#000'}});
  if(r===c){
    yAxes.push({gridIndex:g, type:'value', min:0, max:1.1*Math.max(...hists[r]), show:false});
    series.push({type:'line', xAxisIndex:g, yAxisIndex:g, data:histPts(hists[r], r), showSymbol:false, symbol:'none',
      lineStyle:{color:'#000', width:1.4}, silent:true, animation:false, z:4});
  } else {
    yAxes.push({gridIndex:g, type:'value', min:rangeMin[r], max:rangeMax[r],
      axisLine:{show:false, onZero:false}, splitLine:{show:false},
      axisTick:{show:true, inside:false, length:5, customValues:ticks[r], lineStyle:{color:'#000', width:1}},
      axisLabel:{show:c===0, customValues:ticks[r], rotate:45, align:'right', verticalAlign:'top', margin:20,
        fontSize:FS_TICK, fontFamily:FONT, color:'#000', formatter:(v)=>fmt(r,v)},
      name: c===0 ? names[r] : '', nameLocation:'middle', nameGap:61, nameRotate:90, nameMoveOverlap:false,
      nameTextStyle:{fontSize:FS_NAME, fontFamily:FONT, color:'#000'}});
  }
  g++;
}

panels2d.forEach(([r,c,cells,lines,pts])=>{
  const gi = gIndex[r+'_'+c];
  series.push({type:'scatter', xAxisIndex:gi, yAxisIndex:gi, data:pointData(pts, c, r), symbol:'circle', symbolSize:2.8,
    itemStyle:{color:'rgba(0,0,0,0.2)'}, silent:true, animation:false, z:1});
  series.push({type:'custom', xAxisIndex:gi, yAxisIndex:gi, silent:true, animation:false, clip:true, z:2,
    encode:{x:[0,2], y:[1,3]},
    data: cellData(cells, c, r),
    renderItem:(params, api)=>{
      const p0 = api.coord([api.value(0), api.value(1)]);
      const p1 = api.coord([api.value(2), api.value(3)]);
      const gv = grayLevels[api.value(4)];
      const x = Math.round(Math.min(p0[0],p1[0])), y = Math.round(Math.min(p0[1],p1[1]));
      const x2 = Math.round(Math.max(p0[0],p1[0])), y2 = Math.round(Math.max(p0[1],p1[1]));
      return {type:'rect', shape:{x:x, y:y, width:x2-x, height:y2-y}, style:{fill:'rgb('+gv+','+gv+','+gv+')'}};
    }});
  lines.forEach(flat=>{
    series.push({type:'line', xAxisIndex:gi, yAxisIndex:gi, data:contourPts(flat, c, r), showSymbol:false, symbol:'none',
      lineStyle:{color:'#000', width:1.9}, silent:true, animation:false, z:3});
  });
});

// titles with super/subscripts
for(let i=0;i<8;i++){
  const top = TOP0 + i*STEP, cx = LEFT0 + i*STEP + PW/2;
  const wm = textW(titleMain[i], FS_T);
  const ws = Math.max(textW(titleSup[i], FS_S), textW(titleSub[i], FS_S));
  const x0 = cx - (wm+ws)/2;
  graphics.push({type:'text', x:x0, y:top-8.2-0.346*FS_T, silent:true,
    style:{text:titleMain[i], font:FS_T+'px '+FONT, fill:'#000', align:'left', verticalAlign:'middle'}});
  graphics.push({type:'text', x:x0+wm+0.5, y:top-14.5-0.346*FS_S, silent:true,
    style:{text:titleSup[i], font:FS_S+'px '+FONT, fill:'#000', align:'left', verticalAlign:'middle'}});
  graphics.push({type:'text', x:x0+wm+0.5, y:top-4.5-0.346*FS_S, silent:true,
    style:{text:titleSub[i], font:FS_S+'px '+FONT, fill:'#000', align:'left', verticalAlign:'middle'}});
}
// offset labels for the 1e-7 scaled axis (ldisk_1pc)
graphics.push({type:'text', x:LEFT0, y:TOP0+5*STEP-7, silent:true,
  style:{text:'1e\u22127', font:FS_TICK+'px '+FONT, fill:'#000', align:'left', verticalAlign:'middle'}});
graphics.push({type:'text', x:LEFT0+5*STEP+PW, y:TOP0+7*STEP+PW+46, silent:true,
  style:{text:'1e\u22127', font:FS_TICK+'px '+FONT, fill:'#000', align:'right', verticalAlign:'middle'}});

const chart = echarts.init(document.getElementById('c'), null, {renderer:'canvas', width:1809, height:1809});
chart.setOption({
  backgroundColor:'#fff', animation:false,
  grid:grids, xAxis:xAxes, yAxis:yAxes, series:series, graphic:graphics
});
</script>
</body></html>
